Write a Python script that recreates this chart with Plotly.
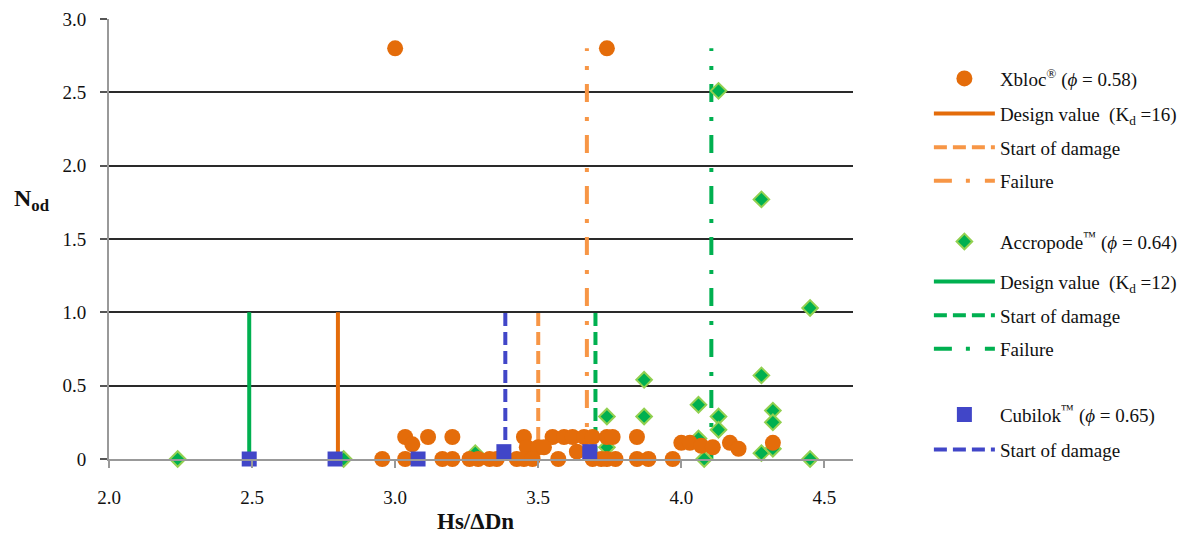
import plotly.graph_objects as go

# ---------------- data ----------------
xbloc_x = [3.00, 3.74,
           3.035, 3.115, 3.20, 3.45, 3.55, 3.59, 3.62, 3.66, 3.69, 3.74, 3.76, 3.845,
           3.06, 3.46, 3.50, 3.52,
           4.00, 4.03, 4.07, 4.11, 4.17, 4.20, 4.32,
           2.955, 3.035, 3.165, 3.20, 3.26, 3.29, 3.33, 3.355, 3.425, 3.45, 3.48,
           3.57, 3.635, 3.69, 3.72, 3.74, 3.77, 3.845, 3.885, 3.97]
xbloc_y = [2.8, 2.8,
           0.15, 0.15, 0.15, 0.15, 0.15, 0.15, 0.15, 0.15, 0.15, 0.15, 0.15, 0.15,
           0.10, 0.08, 0.08, 0.08,
           0.11, 0.11, 0.09, 0.08, 0.11, 0.07, 0.11,
           0, 0, 0, 0, 0, 0, 0, 0, 0, 0, 0,
           0, 0.05, 0, 0, 0, 0, 0, 0, 0]

acc_x = [2.24, 2.82, 3.28, 3.74, 3.74, 3.87, 3.87, 4.06, 4.06, 4.08, 4.13, 4.13,
         4.13, 4.28, 4.28, 4.28, 4.32, 4.32, 4.32, 4.45, 4.45]
acc_y = [0, 0, 0.04, 0.29, 0.08, 0.54, 0.29, 0.37, 0.14, 0, 0.29, 0.20,
         2.51, 1.77, 0.57, 0.04, 0.33, 0.25, 0.07, 1.03, 0]

cub_x = [2.49, 2.79, 3.08, 3.38, 3.68]
cub_y = [0, 0, 0, 0.05, 0.05]

# vertical reference lines: x position, top value
xbloc_design_x, xbloc_design_top = 2.80, 1.0
xbloc_start_x, xbloc_start_top = 3.50, 1.0
xbloc_fail_x, xbloc_fail_top = 3.67, 2.8
acc_design_x, acc_design_top = 2.49, 1.0
acc_start_x, acc_start_top = 3.70, 1.0
acc_fail_x, acc_fail_top = 4.105, 2.8
cub_start_x, cub_start_top = 3.385, 1.0

x_ticks = [2.0, 2.5, 3.0, 3.5, 4.0, 4.5]
x_ticktext = ["2.0", "2.5", "3.0", "3.5", "4.0", "4.5"]
y_ticks = [0, 0.5, 1.0, 1.5, 2.0, 2.5, 3.0]
y_ticktext = ["0", "0.5", "1.0", "1.5", "2.0", "2.5", "3.0"]

# ---------------- styles ----------------
ORANGE = "#E46C0A"
ORANGE_L = "#F79646"
GREEN = "#00B050"
GREEN_L = "#92D050"
BLUE = "#4146C8"
FONT = "Liberation Serif, Times New Roman, Times, serif"
DASH_START = "13px,6px"
DASH_FAIL = "18px,14px,4px,15px"

fig = go.Figure()


def vline(x, top, color, dash, name, legend, rank):
    fig.add_trace(go.Scatter(
        x=[x, x], y=[0, top], mode="lines",
        line=dict(color=color, width=4, dash=dash),
        name=name, legend=legend, legendgroup=legend + name, legendrank=rank,
        hoverinfo="skip", cliponaxis=False))


vline(xbloc_design_x, xbloc_design_top, ORANGE, "solid", "Design value&nbsp; (K<sub>d</sub> =16)", "legend2", 2)
vline(xbloc_start_x, xbloc_start_top, ORANGE_L, DASH_START, "Start of damage", "legend2", 3)
vline(xbloc_fail_x, xbloc_fail_top, ORANGE_L, DASH_FAIL, "Failure", "legend2", 4)
vline(acc_design_x, acc_design_top, GREEN, "solid", "Design value&nbsp; (K<sub>d</sub> =12)", "legend4", 2)
vline(acc_start_x, acc_start_top, GREEN, DASH_START, "Start of damage", "legend4", 3)
vline(acc_fail_x, acc_fail_top, GREEN, DASH_FAIL, "Failure", "legend4", 4)
vline(cub_start_x, cub_start_top, BLUE, DASH_START, "Start of damage", "legend6", 2)

fig.add_trace(go.Scatter(
    x=acc_x, y=acc_y, mode="markers",
    marker=dict(symbol="diamond", size=12, color=GREEN, line=dict(color=GREEN_L, width=2)),
    name="Accropode<sup>™</sup> (<i>ϕ</i> = 0.64)", legend="legend3",
    legendgroup="acc", legendrank=1, cliponaxis=False))

fig.add_trace(go.Scatter(
    x=xbloc_x, y=xbloc_y, mode="markers",
    marker=dict(symbol="circle", size=16, color=ORANGE),
    name="Xbloc<sup>®</sup> (<i>ϕ</i> = 0.58)", legend="legend",
    legendgroup="xb", legendrank=1, cliponaxis=False))

fig.add_trace(go.Scatter(
    x=cub_x, y=cub_y, mode="markers",
    marker=dict(symbol="square", size=15, color=BLUE),
    name="Cubilok<sup>™</sup> (<i>ϕ</i> = 0.65)", legend="legend5",
    legendgroup="cub", legendrank=1, cliponaxis=False))

leg_common = dict(x=1.102, xanchor="left", yanchor="top", traceorder="grouped",
                  tracegroupgap=6, itemwidth=61, bgcolor="rgba(0,0,0,0)",
                  font=dict(family=FONT, size=19, color="#111"))

fig.update_layout(
    width=1186, height=533,
    margin=dict(l=101, r=341, t=11, b=82, autoexpand=False),
    paper_bgcolor="white", plot_bgcolor="white",
    font=dict(family=FONT, size=19, color="#111"),
    showlegend=True,
    legend=dict(y=0.9077, **leg_common),
    legend2=dict(y=0.8282, **leg_common),
    legend3=dict(y=0.5373, **leg_common),
    legend4=dict(y=0.4464, **leg_common),
    legend5=dict(y=0.1441, **leg_common),
    legend6=dict(y=0.0645, **leg_common),
    xaxis=dict(range=[2.0, 4.6], tickvals=x_ticks, ticktext=x_ticktext,
               showgrid=False, zeroline=False, showline=True,
               linecolor="#999", linewidth=2, ticks="outside", ticklen=7,
               tickcolor="#999", tickwidth=1.5, ticklabelstandoff=13,
               tickfont=dict(family=FONT, size=19, color="#111")),
    yaxis=dict(range=[0, 3.0], tickvals=y_ticks, ticktext=y_ticktext,
               showgrid=True, gridcolor="#2a2a2a", gridwidth=1.8,
               zeroline=False, showline=True, linecolor="#999", linewidth=2,
               ticks="outside", ticklen=7, tickcolor="#555", tickwidth=1.5,
               ticklabelstandoff=10,
               tickfont=dict(family=FONT, size=19, color="#111")),
    annotations=[
        dict(text="<b>N<sub>od</sub></b>", xref="paper", yref="paper",
             x=-0.1035, y=0.589, xanchor="center", yanchor="middle",
             showarrow=False, font=dict(family=FONT, size=24, color="#111")),
        dict(text="<b>Hs/ΔDn</b>", xref="paper", yref="paper",
             x=0.492, y=-0.141, xanchor="center", yanchor="middle",
             showarrow=False, font=dict(family=FONT, size=23, color="#111")),
    ],
)

fig.write_html("out.html")
